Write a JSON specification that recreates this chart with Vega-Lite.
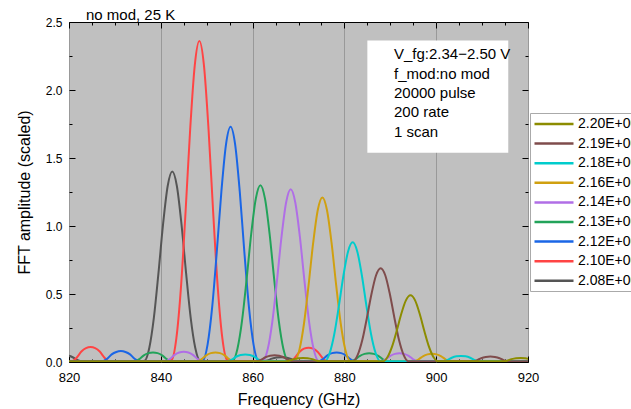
{
 "$schema": "https://vega.github.io/schema/vega-lite/v6.json",
 "width": 459, "height": 340,
 "autosize": {"type": "none"},
 "padding": {"left": 69, "top": 22, "right": 103, "bottom": 47},
 "background": "white",
 "config": {"view": {"fill": "#c0c0c0", "stroke": "#000", "strokeWidth": 1}, "font": "Liberation Sans"},
 "datasets": {
  "curves": [
   {"s":"2.08E+00","f":814.8,"a":0.005},{"s":"2.08E+00","f":815.8,"a":0.015},{"s":"2.08E+00","f":816.8,"a":0.035},{"s":"2.08E+00","f":817.8,"a":0.0465},{"s":"2.08E+00","f":818.8,"a":0.05},{"s":"2.08E+00","f":819.8,"a":0.0465},{"s":"2.08E+00","f":820.8,"a":0.035},{"s":"2.08E+00","f":821.8,"a":0.015},{"s":"2.08E+00","f":822.8,"a":0.005},
   {"s":"2.08E+00","f":835.5,"a":0.005},{"s":"2.08E+00","f":836.5,"a":0.01},{"s":"2.08E+00","f":837.5,"a":0.105},{"s":"2.08E+00","f":838.5,"a":0.328},{"s":"2.08E+00","f":839.5,"a":0.657},{"s":"2.08E+00","f":840.5,"a":1.015},{"s":"2.08E+00","f":841.5,"a":1.294},{"s":"2.08E+00","f":842.5,"a":1.4},{"s":"2.08E+00","f":843.5,"a":1.294},{"s":"2.08E+00","f":844.5,"a":1.015},{"s":"2.08E+00","f":845.5,"a":0.657},{"s":"2.08E+00","f":846.5,"a":0.328},{"s":"2.08E+00","f":847.5,"a":0.105},{"s":"2.08E+00","f":848.5,"a":0.01},{"s":"2.08E+00","f":849.5,"a":0.005},
   {"s":"2.08E+00","f":862.2,"a":0.005},{"s":"2.08E+00","f":863.2,"a":0.0105},{"s":"2.08E+00","f":864.2,"a":0.0245},{"s":"2.08E+00","f":865.2,"a":0.0326},{"s":"2.08E+00","f":866.2,"a":0.035},{"s":"2.08E+00","f":867.2,"a":0.0326},{"s":"2.08E+00","f":868.2,"a":0.0245},{"s":"2.08E+00","f":869.2,"a":0.0105},{"s":"2.08E+00","f":870.2,"a":0.005},{"s":"2.08E+00","f":920,"a":0.005},

   {"s":"2.10E+00","f":820,"a":0.005},{"s":"2.10E+00","f":820.7,"a":0.005},{"s":"2.10E+00","f":821.7,"a":0.033},{"s":"2.10E+00","f":822.7,"a":0.077},{"s":"2.10E+00","f":823.7,"a":0.102},{"s":"2.10E+00","f":824.7,"a":0.11},{"s":"2.10E+00","f":825.7,"a":0.102},{"s":"2.10E+00","f":826.7,"a":0.077},{"s":"2.10E+00","f":827.7,"a":0.033},{"s":"2.10E+00","f":828.7,"a":0.005},
   {"s":"2.10E+00","f":841.4,"a":0.005},{"s":"2.10E+00","f":842.4,"a":0.017},{"s":"2.10E+00","f":843.4,"a":0.177},{"s":"2.10E+00","f":844.4,"a":0.552},{"s":"2.10E+00","f":845.4,"a":1.107},{"s":"2.10E+00","f":846.4,"a":1.711},{"s":"2.10E+00","f":847.4,"a":2.181},{"s":"2.10E+00","f":848.4,"a":2.36},{"s":"2.10E+00","f":849.4,"a":2.181},{"s":"2.10E+00","f":850.4,"a":1.711},{"s":"2.10E+00","f":851.4,"a":1.107},{"s":"2.10E+00","f":852.4,"a":0.552},{"s":"2.10E+00","f":853.4,"a":0.177},{"s":"2.10E+00","f":854.4,"a":0.017},{"s":"2.10E+00","f":855.4,"a":0.005},
   {"s":"2.10E+00","f":868.2,"a":0.005},{"s":"2.10E+00","f":869.2,"a":0.0315},{"s":"2.10E+00","f":870.2,"a":0.0735},{"s":"2.10E+00","f":871.2,"a":0.098},{"s":"2.10E+00","f":872.2,"a":0.105},{"s":"2.10E+00","f":873.2,"a":0.098},{"s":"2.10E+00","f":874.2,"a":0.0735},{"s":"2.10E+00","f":875.2,"a":0.0315},{"s":"2.10E+00","f":876.2,"a":0.005},{"s":"2.10E+00","f":920,"a":0.005},

   {"s":"2.12E+00","f":820,"a":0.005},{"s":"2.12E+00","f":827.3,"a":0.005},{"s":"2.12E+00","f":828.3,"a":0.024},{"s":"2.12E+00","f":829.3,"a":0.056},{"s":"2.12E+00","f":830.3,"a":0.074},{"s":"2.12E+00","f":831.3,"a":0.08},{"s":"2.12E+00","f":832.3,"a":0.074},{"s":"2.12E+00","f":833.3,"a":0.056},{"s":"2.12E+00","f":834.3,"a":0.024},{"s":"2.12E+00","f":835.3,"a":0.005},
   {"s":"2.12E+00","f":848.2,"a":0.005},{"s":"2.12E+00","f":849.2,"a":0.012},{"s":"2.12E+00","f":850.2,"a":0.13},{"s":"2.12E+00","f":851.2,"a":0.405},{"s":"2.12E+00","f":852.2,"a":0.811},{"s":"2.12E+00","f":853.2,"a":1.254},{"s":"2.12E+00","f":854.2,"a":1.599},{"s":"2.12E+00","f":855.2,"a":1.73},{"s":"2.12E+00","f":856.2,"a":1.599},{"s":"2.12E+00","f":857.2,"a":1.254},{"s":"2.12E+00","f":858.2,"a":0.811},{"s":"2.12E+00","f":859.2,"a":0.405},{"s":"2.12E+00","f":860.2,"a":0.13},{"s":"2.12E+00","f":861.2,"a":0.012},{"s":"2.12E+00","f":862.2,"a":0.005},
   {"s":"2.12E+00","f":874.3,"a":0.005},{"s":"2.12E+00","f":875.3,"a":0.021},{"s":"2.12E+00","f":876.3,"a":0.049},{"s":"2.12E+00","f":877.3,"a":0.065},{"s":"2.12E+00","f":878.3,"a":0.07},{"s":"2.12E+00","f":879.3,"a":0.065},{"s":"2.12E+00","f":880.3,"a":0.049},{"s":"2.12E+00","f":881.3,"a":0.021},{"s":"2.12E+00","f":882.3,"a":0.005},{"s":"2.12E+00","f":920,"a":0.005},

   {"s":"2.13E+00","f":820,"a":0.005},{"s":"2.13E+00","f":834.3,"a":0.005},{"s":"2.13E+00","f":835.3,"a":0.021},{"s":"2.13E+00","f":836.3,"a":0.049},{"s":"2.13E+00","f":837.3,"a":0.065},{"s":"2.13E+00","f":838.3,"a":0.07},{"s":"2.13E+00","f":839.3,"a":0.065},{"s":"2.13E+00","f":840.3,"a":0.049},{"s":"2.13E+00","f":841.3,"a":0.021},{"s":"2.13E+00","f":842.3,"a":0.005},
   {"s":"2.13E+00","f":854.7,"a":0.005},{"s":"2.13E+00","f":855.7,"a":0.009},{"s":"2.13E+00","f":856.7,"a":0.098},{"s":"2.13E+00","f":857.7,"a":0.304},{"s":"2.13E+00","f":858.7,"a":0.61},{"s":"2.13E+00","f":859.7,"a":0.943},{"s":"2.13E+00","f":860.7,"a":1.201},{"s":"2.13E+00","f":861.7,"a":1.3},{"s":"2.13E+00","f":862.7,"a":1.201},{"s":"2.13E+00","f":863.7,"a":0.943},{"s":"2.13E+00","f":864.7,"a":0.61},{"s":"2.13E+00","f":865.7,"a":0.304},{"s":"2.13E+00","f":866.7,"a":0.098},{"s":"2.13E+00","f":867.7,"a":0.009},{"s":"2.13E+00","f":868.7,"a":0.005},
   {"s":"2.13E+00","f":881.4,"a":0.005},{"s":"2.13E+00","f":882.4,"a":0.0195},{"s":"2.13E+00","f":883.4,"a":0.0455},{"s":"2.13E+00","f":884.4,"a":0.06},{"s":"2.13E+00","f":885.4,"a":0.065},{"s":"2.13E+00","f":886.4,"a":0.06},{"s":"2.13E+00","f":887.4,"a":0.0455},{"s":"2.13E+00","f":888.4,"a":0.0195},{"s":"2.13E+00","f":889.4,"a":0.005},{"s":"2.13E+00","f":920,"a":0.005},

   {"s":"2.14E+00","f":820,"a":0.005},{"s":"2.14E+00","f":841,"a":0.005},{"s":"2.14E+00","f":842,"a":0.0225},{"s":"2.14E+00","f":843,"a":0.0525},{"s":"2.14E+00","f":844,"a":0.07},{"s":"2.14E+00","f":845,"a":0.075},{"s":"2.14E+00","f":846,"a":0.07},{"s":"2.14E+00","f":847,"a":0.0525},{"s":"2.14E+00","f":848,"a":0.0225},{"s":"2.14E+00","f":849,"a":0.005},
   {"s":"2.14E+00","f":861.3,"a":0.005},{"s":"2.14E+00","f":862.3,"a":0.009},{"s":"2.14E+00","f":863.3,"a":0.095},{"s":"2.14E+00","f":864.3,"a":0.297},{"s":"2.14E+00","f":865.3,"a":0.596},{"s":"2.14E+00","f":866.3,"a":0.921},{"s":"2.14E+00","f":867.3,"a":1.173},{"s":"2.14E+00","f":868.3,"a":1.27},{"s":"2.14E+00","f":869.3,"a":1.173},{"s":"2.14E+00","f":870.3,"a":0.921},{"s":"2.14E+00","f":871.3,"a":0.596},{"s":"2.14E+00","f":872.3,"a":0.297},{"s":"2.14E+00","f":873.3,"a":0.095},{"s":"2.14E+00","f":874.3,"a":0.009},{"s":"2.14E+00","f":875.3,"a":0.005},
   {"s":"2.14E+00","f":888,"a":0.005},{"s":"2.14E+00","f":889,"a":0.0195},{"s":"2.14E+00","f":890,"a":0.0455},{"s":"2.14E+00","f":891,"a":0.06},{"s":"2.14E+00","f":892,"a":0.065},{"s":"2.14E+00","f":893,"a":0.06},{"s":"2.14E+00","f":894,"a":0.0455},{"s":"2.14E+00","f":895,"a":0.0195},{"s":"2.14E+00","f":896,"a":0.005},{"s":"2.14E+00","f":920,"a":0.005},

   {"s":"2.16E+00","f":820,"a":0.005},{"s":"2.16E+00","f":847.9,"a":0.005},{"s":"2.16E+00","f":848.9,"a":0.021},{"s":"2.16E+00","f":849.9,"a":0.049},{"s":"2.16E+00","f":850.9,"a":0.065},{"s":"2.16E+00","f":851.9,"a":0.07},{"s":"2.16E+00","f":852.9,"a":0.065},{"s":"2.16E+00","f":853.9,"a":0.049},{"s":"2.16E+00","f":854.9,"a":0.021},{"s":"2.16E+00","f":855.9,"a":0.005},
   {"s":"2.16E+00","f":868.2,"a":0.005},{"s":"2.16E+00","f":869.2,"a":0.008},{"s":"2.16E+00","f":870.2,"a":0.091},{"s":"2.16E+00","f":871.2,"a":0.283},{"s":"2.16E+00","f":872.2,"a":0.567},{"s":"2.16E+00","f":873.2,"a":0.877},{"s":"2.16E+00","f":874.2,"a":1.118},{"s":"2.16E+00","f":875.2,"a":1.21},{"s":"2.16E+00","f":876.2,"a":1.118},{"s":"2.16E+00","f":877.2,"a":0.877},{"s":"2.16E+00","f":878.2,"a":0.567},{"s":"2.16E+00","f":879.2,"a":0.283},{"s":"2.16E+00","f":880.2,"a":0.091},{"s":"2.16E+00","f":881.2,"a":0.008},{"s":"2.16E+00","f":882.2,"a":0.005},
   {"s":"2.16E+00","f":895.1,"a":0.005},{"s":"2.16E+00","f":896.1,"a":0.018},{"s":"2.16E+00","f":897.1,"a":0.042},{"s":"2.16E+00","f":898.1,"a":0.056},{"s":"2.16E+00","f":899.1,"a":0.06},{"s":"2.16E+00","f":900.1,"a":0.056},{"s":"2.16E+00","f":901.1,"a":0.042},{"s":"2.16E+00","f":902.1,"a":0.018},{"s":"2.16E+00","f":903.1,"a":0.005},{"s":"2.16E+00","f":920,"a":0.005},

   {"s":"2.18E+00","f":820,"a":0.005},{"s":"2.18E+00","f":854.4,"a":0.005},{"s":"2.18E+00","f":855.4,"a":0.0165},{"s":"2.18E+00","f":856.4,"a":0.0385},{"s":"2.18E+00","f":857.4,"a":0.051},{"s":"2.18E+00","f":858.4,"a":0.055},{"s":"2.18E+00","f":859.4,"a":0.051},{"s":"2.18E+00","f":860.4,"a":0.0385},{"s":"2.18E+00","f":861.4,"a":0.0165},{"s":"2.18E+00","f":862.4,"a":0.005},
   {"s":"2.18E+00","f":874.8,"a":0.005},{"s":"2.18E+00","f":875.8,"a":0.006},{"s":"2.18E+00","f":876.8,"a":0.066},{"s":"2.18E+00","f":877.8,"a":0.206},{"s":"2.18E+00","f":878.8,"a":0.413},{"s":"2.18E+00","f":879.8,"a":0.638},{"s":"2.18E+00","f":880.8,"a":0.813},{"s":"2.18E+00","f":881.8,"a":0.88},{"s":"2.18E+00","f":882.8,"a":0.813},{"s":"2.18E+00","f":883.8,"a":0.638},{"s":"2.18E+00","f":884.8,"a":0.413},{"s":"2.18E+00","f":885.8,"a":0.206},{"s":"2.18E+00","f":886.8,"a":0.066},{"s":"2.18E+00","f":887.8,"a":0.006},{"s":"2.18E+00","f":888.8,"a":0.005},
   {"s":"2.18E+00","f":901.4,"a":0.005},{"s":"2.18E+00","f":902.4,"a":0.0135},{"s":"2.18E+00","f":903.4,"a":0.0315},{"s":"2.18E+00","f":904.4,"a":0.042},{"s":"2.18E+00","f":905.4,"a":0.045},{"s":"2.18E+00","f":906.4,"a":0.042},{"s":"2.18E+00","f":907.4,"a":0.0315},{"s":"2.18E+00","f":908.4,"a":0.0135},{"s":"2.18E+00","f":909.4,"a":0.005},{"s":"2.18E+00","f":920,"a":0.005},

   {"s":"2.19E+00","f":820,"a":0.005},{"s":"2.19E+00","f":860.8,"a":0.005},{"s":"2.19E+00","f":861.8,"a":0.015},{"s":"2.19E+00","f":862.8,"a":0.035},{"s":"2.19E+00","f":863.8,"a":0.0465},{"s":"2.19E+00","f":864.8,"a":0.05},{"s":"2.19E+00","f":865.8,"a":0.0465},{"s":"2.19E+00","f":866.8,"a":0.035},{"s":"2.19E+00","f":867.8,"a":0.015},{"s":"2.19E+00","f":868.8,"a":0.005},
   {"s":"2.19E+00","f":880.9,"a":0.005},{"s":"2.19E+00","f":881.9,"a":0.006},{"s":"2.19E+00","f":882.9,"a":0.052},{"s":"2.19E+00","f":883.9,"a":0.161},{"s":"2.19E+00","f":884.9,"a":0.324},{"s":"2.19E+00","f":885.9,"a":0.5},{"s":"2.19E+00","f":886.9,"a":0.638},{"s":"2.19E+00","f":887.9,"a":0.69},{"s":"2.19E+00","f":888.9,"a":0.638},{"s":"2.19E+00","f":889.9,"a":0.5},{"s":"2.19E+00","f":890.9,"a":0.324},{"s":"2.19E+00","f":891.9,"a":0.161},{"s":"2.19E+00","f":892.9,"a":0.052},{"s":"2.19E+00","f":893.9,"a":0.006},{"s":"2.19E+00","f":894.9,"a":0.005},
   {"s":"2.19E+00","f":907.8,"a":0.005},{"s":"2.19E+00","f":908.8,"a":0.012},{"s":"2.19E+00","f":909.8,"a":0.028},{"s":"2.19E+00","f":910.8,"a":0.037},{"s":"2.19E+00","f":911.8,"a":0.04},{"s":"2.19E+00","f":912.8,"a":0.037},{"s":"2.19E+00","f":913.8,"a":0.028},{"s":"2.19E+00","f":914.8,"a":0.012},{"s":"2.19E+00","f":915.8,"a":0.005},{"s":"2.19E+00","f":920,"a":0.005},

   {"s":"2.20E+00","f":820,"a":0.003},{"s":"2.20E+00","f":867,"a":0.003},{"s":"2.20E+00","f":868,"a":0.009},{"s":"2.20E+00","f":869,"a":0.021},{"s":"2.20E+00","f":870,"a":0.028},{"s":"2.20E+00","f":871,"a":0.03},{"s":"2.20E+00","f":872,"a":0.028},{"s":"2.20E+00","f":873,"a":0.021},{"s":"2.20E+00","f":874,"a":0.009},{"s":"2.20E+00","f":875,"a":0.005},
   {"s":"2.20E+00","f":887.4,"a":0.005},{"s":"2.20E+00","f":888.4,"a":0.005},{"s":"2.20E+00","f":889.4,"a":0.037},{"s":"2.20E+00","f":890.4,"a":0.115},{"s":"2.20E+00","f":891.4,"a":0.23},{"s":"2.20E+00","f":892.4,"a":0.355},{"s":"2.20E+00","f":893.4,"a":0.453},{"s":"2.20E+00","f":894.4,"a":0.49},{"s":"2.20E+00","f":895.4,"a":0.453},{"s":"2.20E+00","f":896.4,"a":0.355},{"s":"2.20E+00","f":897.4,"a":0.23},{"s":"2.20E+00","f":898.4,"a":0.115},{"s":"2.20E+00","f":899.4,"a":0.037},{"s":"2.20E+00","f":900.4,"a":0.005},{"s":"2.20E+00","f":901.4,"a":0.005},
   {"s":"2.20E+00","f":914.4,"a":0.005},{"s":"2.20E+00","f":915.4,"a":0.009},{"s":"2.20E+00","f":916.4,"a":0.021},{"s":"2.20E+00","f":917.4,"a":0.028},{"s":"2.20E+00","f":918.4,"a":0.03},{"s":"2.20E+00","f":919.4,"a":0.028},{"s":"2.20E+00","f":920.4,"a":0.021},{"s":"2.20E+00","f":921.4,"a":0.009},{"s":"2.20E+00","f":922.4,"a":0.005}
  ],
  "box": [{"x1": 885.0, "x2": 915.7, "y1": 2.364, "y2": 1.539}],
  "info": [
   {"t": "V_fg:2.34\u22122.50 V", "x": 890.8, "y": 2.226},
   {"t": "f_mod:no mod", "x": 890.8, "y": 2.079},
   {"t": "20000 pulse", "x": 890.8, "y": 1.939},
   {"t": "200 rate", "x": 890.8, "y": 1.799},
   {"t": "1 scan", "x": 890.8, "y": 1.652}
  ],
  "heading": [{"t": "no mod, 25 K", "x": 823.7, "y": 2.515}]
 },
 "resolve": {"axis": {"x": "independent", "y": "independent"}},
 "layer": [
  {
   "data": {"name": "curves"},
   "mark": {"type": "line", "strokeWidth": 2, "interpolate": "monotone", "clip": true},
   "encoding": {
    "x": {"field": "f", "type": "quantitative", "scale": {"domain": [820, 920], "nice": false, "zero": false},
     "axis": {"orient": "bottom", "title": "Frequency (GHz)", "values": [820,825,830,835,840,845,850,855,860,865,870,875,880,885,890,895,900,905,910,915,920],
      "labelExpr": "datum.value % 20 === 0 ? datum.label : ''", "labelOverlap": false, "labelFlush": false, "labelFontSize": 13, "labelColor": "#000", "labelPadding": 15,
      "tickSize": {"condition": {"test": "datum.value % 20 !== 0", "value": -3}, "value": -6}, "tickColor": "#000", "domain": false,
      "grid": true, "gridColor": "#999999", "gridWidth": 1, "gridOpacity": {"condition": {"test": "datum.value % 20 !== 0", "value": 0}, "value": 1},
      "titleFontSize": 16, "titleFontWeight": "normal", "titleColor": "#000", "titlePadding": 4}},
    "y": {"field": "a", "type": "quantitative", "scale": {"domain": [0, 2.5], "nice": false},
     "axis": {"orient": "left", "title": "FFT amplitude (scaled)", "values": [0,0.25,0.5,0.75,1,1.25,1.5,1.75,2,2.25,2.5], "format": ".1f",
      "labelExpr": "(datum.value * 4) % 2 === 0 ? datum.label : ''", "labelOverlap": false, "labelFlush": false, "labelFontSize": 12, "labelColor": "#000", "labelPadding": 13,
      "tickSize": {"condition": {"test": "(datum.value * 4) % 2 !== 0", "value": -3}, "value": -6}, "tickColor": "#000", "domain": false, "grid": false,
      "titleFontSize": 16, "titleFontWeight": "normal", "titleColor": "#000", "titlePadding": 13}},
    "color": {"field": "s", "type": "nominal",
     "scale": {"domain": ["2.20E+00","2.19E+00","2.18E+00","2.16E+00","2.14E+00","2.13E+00","2.12E+00","2.10E+00","2.08E+00"],
      "range": ["#8c8c00","#7f4c4c","#00cccc","#d0a010","#b06ee6","#22a35a","#1a66e6","#ff4444","#555555"]},
     "legend": {"orient": "none", "legendX": 461, "legendY": 91, "title": null, "symbolType": "M-1,0H5", "symbolSize": 169, "symbolStrokeWidth": 2.5,
      "labelFontSize": 14, "labelColor": "#000", "labelOffset": 29, "labelLimit": 0, "strokeColor": "#aaaaaa", "fillColor": "white", "padding": 3, "rowPadding": 4.6}}
   }
  },
  {
   "data": {"name": "box"},
   "mark": {"type": "rect", "fill": "white", "stroke": null},
   "encoding": {
    "x": {"field": "x1", "type": "quantitative", "scale": {"domain": [820, 920], "nice": false, "zero": false},
     "axis": {"orient": "top", "title": null, "labels": false, "domain": false, "grid": false, "values": [820,825,830,835,840,845,850,855,860,865,870,875,880,885,890,895,900,905,910,915,920],
      "tickSize": {"condition": {"test": "datum.value % 20 !== 0", "value": -3}, "value": -6}, "tickColor": "#000"}},
    "x2": {"field": "x2"},
    "y": {"field": "y1", "type": "quantitative", "scale": {"domain": [0, 2.5], "nice": false},
     "axis": {"orient": "right", "title": null, "labels": false, "domain": false, "grid": false, "values": [0,0.25,0.5,0.75,1,1.25,1.5,1.75,2,2.25,2.5],
      "tickSize": {"condition": {"test": "(datum.value * 4) % 2 !== 0", "value": -3}, "value": -6}, "tickColor": "#000"}},
    "y2": {"field": "y2"}
   }
  },
  {
   "data": {"name": "info"},
   "mark": {"type": "text", "align": "left", "baseline": "alphabetic", "fontSize": 15, "color": "#000"},
   "encoding": {
    "x": {"field": "x", "type": "quantitative", "axis": null},
    "y": {"field": "y", "type": "quantitative", "axis": null},
    "text": {"field": "t"}
   }
  },
  {
   "data": {"name": "heading"},
   "mark": {"type": "text", "align": "left", "baseline": "alphabetic", "fontSize": 15, "color": "#000", "clip": false},
   "encoding": {
    "x": {"field": "x", "type": "quantitative", "axis": null},
    "y": {"field": "y", "type": "quantitative", "axis": null},
    "text": {"field": "t"}
   }
  }
 ]
}
